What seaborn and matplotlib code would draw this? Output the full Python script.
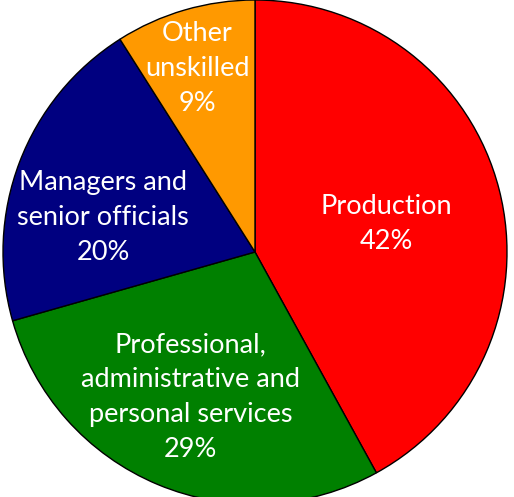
import seaborn as sns
import matplotlib.pyplot as plt
import numpy as np

# dados do grafico
categorias = ["Production", "Professional,\nadministrative and\npersonal services",
              "Managers and\nsenior officials", "Other\nunskilled"]
valores = [42.0, 28.6, 20.4, 9.0]
cores = ["#FF0000", "#008000", "#000080", "#FF9900"]

# distancia do rotulo ao centro (fração do raio) e ajuste de angulo
dist_rotulo = [0.532, 0.629, 0.618, 0.762]
ajuste_ang = [-2.3, -1.3, 7.9, 1.2]

sns.set_theme(style="white")
plt.rcParams['font.family'] = ['Lato', 'DejaVu Sans']

fig = plt.figure(figsize=(5.14, 4.97), dpi=100)
ax = fig.add_axes([0, 0, 1, 1])

fatias, _ = ax.pie(valores, colors=cores, startangle=90, counterclock=False,
                   radius=1, wedgeprops=dict(edgecolor="black", linewidth=1))

for fatia, nome, v, d, a in zip(fatias, categorias, valores, dist_rotulo, ajuste_ang):
    ang = np.deg2rad((fatia.theta1 + fatia.theta2) / 2 + a)
    ax.text(d * np.cos(ang), d * np.sin(ang), f"{nome}\n{v:.0f}%", color="white",
            ha="center", va="center", fontsize=19.5, linespacing=1.5)

# raio de 252 px, centro em (255, 252) px
ax.set_xlim(-255 / 252, (514 - 255) / 252)
ax.set_ylim(-(497 - 252) / 252, 252 / 252)
ax.set_aspect("equal")
ax.axis("off")

fig.savefig("out.png", dpi=100)
